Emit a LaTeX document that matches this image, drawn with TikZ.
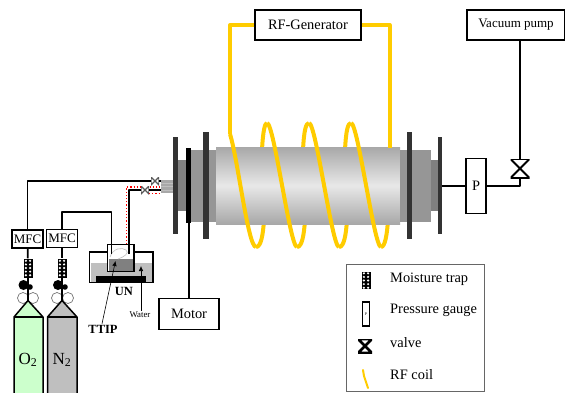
\documentclass[tikz,border=0pt]{standalone}
\usepackage{fontspec}
\setmainfont{Liberation Serif}
\usetikzlibrary{arrows.meta}
\definecolor{coilyellow}{HTML}{FFCC00}
\definecolor{plategray}{HTML}{333333}
\definecolor{flangegray}{HTML}{969696}
\definecolor{neckgray}{HTML}{808080}
\definecolor{tubegray}{HTML}{A8A8A8}
\definecolor{bathgray}{HTML}{BFBFBF}
\definecolor{oxygreen}{HTML}{CCFFCC}
\tikzset{
    box/.style={draw, line width=1.5pt, fill=white, inner sep=0pt, font=\fontsize{14.4}{16}\selectfont},
    mfcbox/.style={box, minimum width=31pt, minimum height=18pt, font=\fontsize{13}{15}\selectfont},
    pipe/.style={line width=1.8pt, line join=round},
    coil/.style={coilyellow, line width=4pt, line join=round},
    plate/.style={fill=plategray, draw=none},
    label/.style={inner sep=0pt, anchor=west, font=\fontsize{14.4}{16}\selectfont},
    trapbox/.style={minimum width=9pt, minimum height=19pt, inner sep=0pt, fill=black, path picture={
        \foreach \row in {-2,...,2} {
            \fill[white] ([shift={(-2.1,\row*3.6)}]path picture bounding box.center) circle (1.2);
            \fill[white] ([shift={(2.1,\row*3.6)}]path picture bounding box.center) circle (1.2);
        }}},
    valvebow/.style 2 args={minimum size=#1, inner sep=0pt, fill=white, path picture={
        \draw[line width=#2] (path picture bounding box.north west) -- (path picture bounding box.north east)
            -- (path picture bounding box.south west) -- (path picture bounding box.south east)
            -- cycle;}},
    valvesmall/.style={minimum size=8pt, inner sep=0pt, fill=white, path picture={
        \draw[gray!70!black, line width=1.2pt] (path picture bounding box.north west) -- (path picture bounding box.south east)
            -- (path picture bounding box.north east) -- (path picture bounding box.south west) -- cycle;}},
    note/.style={-{Latex[length=5pt,width=4.5pt]}, line width=0.6pt},
}
\begin{document}
\begin{tikzpicture}[x=1pt,y=-1pt]
    \useasboundingbox (0,0) rectangle (565,392);

    % coil behind the tube
    \draw[coil] (256,247) .. controls (261,247) and (263,235) .. (264,220) -- (262,150) .. controls (263,130) and (265,123) .. (267,123);
    \draw[coil] (297,247) .. controls (302,247) and (304,235) .. (305,220) -- (303,150) .. controls (304,130) and (306,123) .. (309,123);
    \draw[coil] (339,247) .. controls (344,247) and (346,235) .. (347,220) -- (345,150) .. controls (346,130) and (348,123) .. (351,123);
    \draw[coil] (381,247) .. controls (385,247) and (387,235) .. (388,220);

    % chamber
    \fill[neckgray] (178,160) rectangle (186,211);
    \fill[flangegray] (186,150) rectangle (216,222);
    \fill[top color=tubegray, bottom color=tubegray, middle color=gray!18] (216,147) rectangle (400,224);
    \fill[flangegray] (400,150) rectangle (431,222);
    \fill[neckgray] (431,160) rectangle (438,211);
    \fill[plate] (172.5,137) rectangle (178,234);
    \fill[black] (186,148) rectangle (191,223);
    \fill[plate] (203,132) rectangle (208.5,239);
    \fill[plate] (407,132) rectangle (412,239);
    \fill[plate] (438,137) rectangle (442,234);

    % coil in front of the tube
    \draw[coil] (230,134) .. controls (238,160) and (248,247) .. (256,247);
    \draw[coil] (267,123) .. controls (274,123) and (290,247) .. (297,247);
    \draw[coil] (309,123) .. controls (316,123) and (332,247) .. (339,247);
    \draw[coil] (351,123) .. controls (358,123) and (374,247) .. (381,247);

    % gas ports
    \fill[tubegray] (161,180) rectangle (172.5,193);
    \foreach \y in {183,186.5,190} {
        \draw[gray!50, line width=0.6pt] (161,\y) -- (172.5,\y);
    }

    % boxes
    \node[box, minimum width=106pt, minimum height=30pt] (rf) at (308,25) {RF-Generator};
    \node[box, minimum width=98pt, minimum height=30pt, font=\fontsize{13}{15}\selectfont] (vac) at (516,25) {Vacuum pump};
    \node[box, minimum width=20pt, minimum height=55pt] (p) at (476,186) {P};
    \node[box, minimum width=60pt, minimum height=31pt] (motor) at (189,314) {Motor};
    \node[valvebow={19pt}{1.9pt}] (vpump) at (520,168.5) {};
    \coordinate (lplate) at (442,186);
    \coordinate (shaft) at (189,223);

    \draw[coil] (rf.west) -- (230,25) -- (230,134);
    \draw[coil] (rf.east) -- (389.5,25) -- (389.5,148);
    \draw[pipe] (lplate) -- (p);
    \draw[pipe] (p.east |- lplate) -| (vpump);
    \draw[pipe] (vpump) -- (vpump |- vac.south);
    \draw[line width=1.3pt] (shaft) -- (motor.north -| shaft);

    % gas cylinders
    \node[mfcbox] (mfco) at (27.5,239) {MFC};
    \node[mfcbox] (mfcn) at (62,238.5) {MFC};
    \node[trapbox] (trapo) at (28,268) {};
    \node[trapbox] (trapn) at (62,268) {};
    \draw[pipe] (mfco) -- (trapo);
    \draw[pipe] (mfcn) -- (trapn);
    \draw[gray!90!black, line width=0.7pt] (23,298) circle (5.5) (33,298) circle (5.5) (57,298) circle (5.5) (68,298) circle (5.5);
    \draw[line width=1.5pt, fill=oxygreen, line join=round] (28,300.5) -- (43,317) -- (43,394) -- (14,394) -- (14,317) -- cycle;
    \draw[line width=1.5pt] (14,317) -- (43,317);
    \draw[line width=1.5pt, fill=bathgray, line join=round] (62,300.5) -- (77,317) -- (77,394) -- (47.5,394) -- (47.5,317) -- cycle;
    \draw[line width=1.5pt] (47.5,317) -- (77,317);
    \draw[pipe] (trapo) -- (28,300.5);
    \draw[pipe] (trapn) -- (62,300.5);
    \fill (23.5,285) circle (5) (30,287) circle (2.8) (58,285) circle (5) (65,287) circle (2.8);
    \node[font=\fontsize{17}{19}\selectfont, inner sep=0pt] (o2) at (28,360) {O\textsubscript{2}};
    \node[font=\fontsize{17}{19}\selectfont, inner sep=0pt] (n2) at (62,360) {N\textsubscript{2}};

    % bubbler
    \fill[bathgray] (91,263) rectangle (152,282);
    \draw[line width=1.6pt] (89.5,252) rectangle (153,282.5);
    \fill[black] (96,276) rectangle (146,283);
    \draw[line width=1.6pt, fill=white] (107.5,244.5) rectangle (134,271.5);
    \fill[neckgray] (108.5,259) rectangle (133,270.5);
    \draw[gray!50, line width=0.6pt] (110,257) .. controls (113,248) and (122,247) .. (126,250) .. controls (130,253) and (124,257) .. (118,259);
    \coordinate (dipn) at (111.5,254);
    \coordinate (dipo) at (129,254);
    \coordinate (bendn) at (62,212);
    \coordinate (bendo) at (129,190);
    \coordinate (redstart) at (126.5,244);
    \coordinate (redbend) at (126.5,187);
    \coordinate (redend) at (161,187);
    \coordinate (redlow) at (161,193.5);
    \coordinate (redlowstart) at (149,193.5);
    \draw[red, dotted, line width=1.2pt] (redstart) -- (redbend) -- (redend);
    \draw[red, dotted, line width=1.2pt] (redlowstart) -- (redlow);

    % valves at the chamber
    \node[valvesmall] (vo) at (155,181) {};
    \node[valvesmall] (vn) at (145,190) {};
    \coordinate (porto) at (161,181);
    \coordinate (portn) at (161,190);
    \draw[pipe] (mfco) |- (vo);
    \draw[pipe] (vo) -- (porto);
    \draw[pipe] (mfcn) |- (dipn |- bendn) -- (dipn);
    \draw[pipe] (dipo) -- (bendo) -- (vn);
    \draw[pipe] (vn) -- (portn);

    % bubbler labels
    \node[font=\bfseries\fontsize{12.5}{14}\selectfont, inner sep=0pt] (un) at (124,291.5) {UN};
    \node[font=\bfseries\fontsize{12.5}{14}\selectfont, inner sep=0pt] (ttip) at (103,329) {TTIP};
    \node[font=\fontsize{8.8}{10}\selectfont, inner sep=0pt] (water) at (140,315) {Water};
    \coordinate (ttiptip) at (115.5,261);
    \coordinate (watertip) at (141,266);
    \draw[note] (ttip.north) ++(-1,-1) -- (ttiptip);
    \draw[note] (water.north) ++(1,-1) -- (watertip);

    % legend
    \node[draw=gray!80!black, line width=0.8pt, minimum width=138pt, minimum height=127pt, inner sep=0pt] (legend) at (415,327.5) {};
    \node[trapbox, minimum height=17pt] (ltrap) at (366,280.5) {};
    \node[draw, line width=1.5pt, minimum width=7pt, minimum height=24pt, inner sep=0pt, font=\fontsize{4}{4}\selectfont] (lgauge) at (366,314) {P};
    \node[valvebow={14pt}{2.6pt}, fill=none] (lvalve) at (365,346) {};
    \coordinate (lcoila) at (363,370);
    \coordinate (lcoilb) at (368,388);
    \draw[coilyellow, line width=2pt, line cap=round] (lcoila) -- (364,376) -- (lcoilb);
    \node[label] (ltraptxt) at (390,279) {Moisture trap};
    \node[label] (lgaugetxt) at (390,310) {Pressure gauge};
    \node[label] (lvalvetxt) at (390,343) {valve};
    \node[label] (lcoiltxt) at (390,375) {RF coil};
\end{tikzpicture}
\end{document}
